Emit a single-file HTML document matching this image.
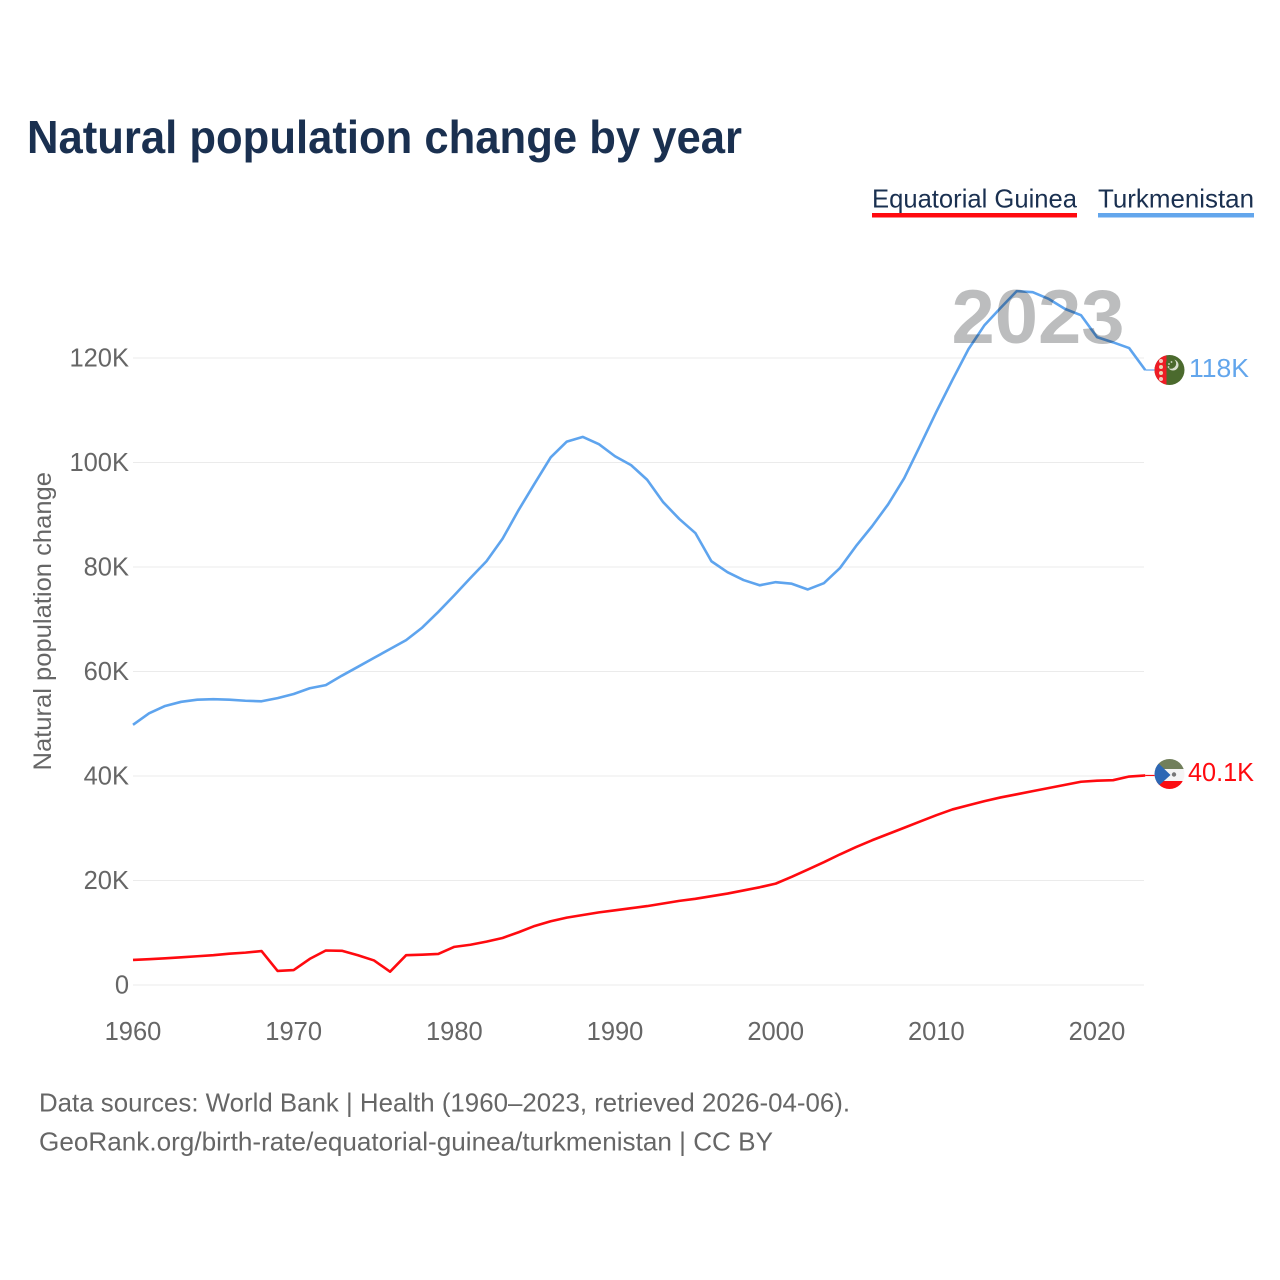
<!DOCTYPE html>
<html lang="en">
<head>
<meta charset="utf-8">
<title>Natural population change by year</title>
<style>
html,body{margin:0;padding:0;background:#fff;}
svg{display:block;font-family:"Liberation Sans",sans-serif;}
</style>
</head>
<body>
<svg id="chart" xmlns="http://www.w3.org/2000/svg" width="1280" height="1280" viewBox="0 0 1280 1280">
<defs>
<clipPath id="flag-clip-tm"><circle cx="1169.5" cy="370" r="15"/></clipPath>
<clipPath id="flag-clip-gq"><circle cx="1169.5" cy="774" r="15"/></clipPath>
</defs>
<rect width="1280" height="1280" fill="#fff"/>
<text x="27" y="153" font-size="46" font-weight="700" fill="#1a3050" textLength="715" lengthAdjust="spacingAndGlyphs">Natural population change by year</text>
<g>
<text x="872" y="207.500" font-size="26" fill="#1a3050" textLength="205" lengthAdjust="spacingAndGlyphs">Equatorial Guinea</text>
<rect x="872" y="213" width="205" height="4.5" fill="#ff0a0f"/>
</g>
<g>
<text x="1098" y="207.500" font-size="26" fill="#1a3050" textLength="156" lengthAdjust="spacingAndGlyphs">Turkmenistan</text>
<rect x="1098" y="213" width="156" height="4.5" fill="#63a6ec"/>
</g>
<g id="grid"></g>
<g id="yticks"></g>
<g id="xticks"></g>
<text transform="translate(51,770.500) rotate(-90)" x="0" y="0" font-size="25" fill="#666" textLength="298.500" lengthAdjust="spacingAndGlyphs">Natural population change</text>
<g id="series"></g>
<text x="951.500" y="343" font-size="76" font-weight="700" fill="#bcbdbe" style="mix-blend-mode:multiply" textLength="173" lengthAdjust="spacingAndGlyphs">2023</text>
<g clip-path="url(#flag-clip-tm)">
<rect x="1154" y="354" width="32" height="32" fill="#4b6a2d"/>
<rect x="1154" y="354" width="12.500" height="32" fill="#ee1c25"/>
<circle cx="1161" cy="361" r="2" fill="#f3c9c0"/>
<circle cx="1161" cy="367" r="2" fill="#e9d8b8"/>
<circle cx="1161" cy="373" r="2" fill="#e9d8b8"/>
<circle cx="1161" cy="379" r="2" fill="#f3c9c0"/>
<circle cx="1173" cy="365" r="5.500" fill="#d8dfce"/>
<circle cx="1171" cy="363.500" r="5.200" fill="#4b6a2d"/>
<circle cx="1169" cy="364" r="0.900" fill="#d8dfce"/>
<circle cx="1171.500" cy="362" r="0.900" fill="#d8dfce"/>
<circle cx="1168.500" cy="367" r="0.900" fill="#d8dfce"/>
</g>
<g clip-path="url(#flag-clip-gq)">
<rect x="1154" y="758" width="32" height="11" fill="#717f5b"/>
<rect x="1154" y="769" width="32" height="12" fill="#f4f4f4"/>
<rect x="1154" y="781" width="32" height="10" fill="#fb0d12"/>
<polygon points="1154,759 1170.500,775 1154,790" fill="#2d67b4"/>
<circle cx="1174" cy="774.500" r="2.200" fill="#777"/>
</g>
<text id="label-tm" x="1189" y="377" font-size="25.500" fill="#63a6ec" textLength="60" lengthAdjust="spacingAndGlyphs">118K</text>
<text id="label-gq" x="1188" y="781" font-size="25.500" fill="#ff0a0f" textLength="66" lengthAdjust="spacingAndGlyphs">40.1K</text>
<text x="39" y="1111.500" font-size="26" fill="#666" textLength="811" lengthAdjust="spacingAndGlyphs">Data sources: World Bank | Health (1960–2023, retrieved 2026-04-06).</text>
<text x="39" y="1150.500" font-size="26" fill="#666" textLength="734" lengthAdjust="spacingAndGlyphs">GeoRank.org/birth-rate/equatorial-guinea/turkmenistan | CC BY</text>
</svg>
<script>
const startYear = 1960;
const xTickYears = [1960, 1970, 1980, 1990, 2000, 2010, 2020];
const yTickValues = [0, 20, 40, 60, 80, 100, 120];
const yTickLabels = ["0", "20K", "40K", "60K", "80K", "100K", "120K"];
const turkmenistan = [49.8,52,53.4,54.2,54.6,54.7,54.6,54.4,54.3,54.9,55.7,56.8,57.4,59.2,60.9,62.6,64.3,66,68.4,71.4,74.6,77.9,81.1,85.4,90.9,96,101,104,104.9,103.5,101.2,99.5,96.7,92.4,89.2,86.5,81.1,79,77.5,76.5,77.1,76.8,75.7,76.9,79.8,84,87.8,92,97,103.3,109.7,115.8,121.7,126.3,129.6,132.8,132.6,131.3,129.4,128.2,124,123,121.9,117.7];
const equatorialGuinea = [4.8,4.95,5.1,5.3,5.5,5.7,6,6.2,6.5,2.7,2.85,5,6.6,6.55,5.7,4.7,2.55,5.7,5.8,5.95,7.3,7.7,8.3,9,10.1,11.3,12.2,12.9,13.4,13.9,14.3,14.7,15.1,15.6,16.1,16.5,17,17.5,18.1,18.7,19.4,20.7,22.1,23.5,25,26.4,27.7,28.9,30.1,31.3,32.5,33.6,34.4,35.2,35.9,36.5,37.1,37.7,38.3,38.9,39.1,39.2,39.9,40.1];

const NS = "http://www.w3.org/2000/svg";
const xScale = function (year) { return 133 + (year - 1960) * 16.067; };
const yScale = function (value) { return 985 - value * 5.225; };
const gridGroup = document.getElementById("grid");
const yTickGroup = document.getElementById("yticks");
const xTickGroup = document.getElementById("xticks");
const seriesGroup = document.getElementById("series");

yTickValues.forEach(function (value, i) {
  const line = document.createElementNS(NS, "line");
  
  
  line.setAttribute("x1", 133);
  line.setAttribute("x2", 1144);
  line.setAttribute("y1", yScale(value));
  line.setAttribute("y2", yScale(value));
  line.setAttribute("stroke", "#ebebeb");
  line.setAttribute("stroke-width", "1");
  gridGroup.appendChild(line);

  const label = document.createElementNS(NS, "text");
  
  
  label.setAttribute("x", 129);
  label.setAttribute("y", yScale(value) + 8.5);
  label.setAttribute("text-anchor", "end");
  label.setAttribute("font-size", "25.5");
  label.setAttribute("fill", "#666");
  label.textContent = yTickLabels[i];
  yTickGroup.appendChild(label);
});

xTickYears.forEach(function (year) {
  const label = document.createElementNS(NS, "text");
  
  
  label.setAttribute("x", xScale(year));
  label.setAttribute("y", 1040);
  label.setAttribute("text-anchor", "middle");
  label.setAttribute("font-size", "25.5");
  label.setAttribute("fill", "#666");
  label.textContent = String(year);
  xTickGroup.appendChild(label);
});

function linePath(values) {
  return values.map(function (value, i) {
    return (i ? "L" : "M") + xScale(startYear + i).toFixed(2) + " " + yScale(value).toFixed(2);
  }).join(" ");
}

const guineaLine = document.createElementNS(NS, "path");


guineaLine.setAttribute("d", linePath(equatorialGuinea));
guineaLine.setAttribute("fill", "none");
guineaLine.setAttribute("stroke", "#ff0a0f");
guineaLine.setAttribute("stroke-width", "2.6");
guineaLine.setAttribute("stroke-linejoin", "round");
seriesGroup.appendChild(guineaLine);

const turkmenLine = document.createElementNS(NS, "path");


turkmenLine.setAttribute("d", linePath(turkmenistan));
turkmenLine.setAttribute("fill", "none");
turkmenLine.setAttribute("stroke", "#5ea4ee");
turkmenLine.setAttribute("stroke-width", "2.6");
turkmenLine.setAttribute("stroke-linejoin", "round");
seriesGroup.appendChild(turkmenLine);

const guineaLeader = document.createElementNS(NS, "line");


guineaLeader.setAttribute("x1", xScale(2023));
guineaLeader.setAttribute("x2", 1155);
guineaLeader.setAttribute("y1", yScale(equatorialGuinea[equatorialGuinea.length - 1]));
guineaLeader.setAttribute("y2", yScale(equatorialGuinea[equatorialGuinea.length - 1]));
guineaLeader.setAttribute("stroke", "#ff0a0f");
guineaLeader.setAttribute("stroke-width", "1.2");
seriesGroup.appendChild(guineaLeader);

const turkmenLeader = document.createElementNS(NS, "line");


turkmenLeader.setAttribute("x1", xScale(2023));
turkmenLeader.setAttribute("x2", 1155);
turkmenLeader.setAttribute("y1", yScale(turkmenistan[turkmenistan.length - 1]));
turkmenLeader.setAttribute("y2", yScale(turkmenistan[turkmenistan.length - 1]));
turkmenLeader.setAttribute("stroke", "#5ea4ee");
turkmenLeader.setAttribute("stroke-width", "1.2");
seriesGroup.appendChild(turkmenLeader);
</script>
</body>
</html>
